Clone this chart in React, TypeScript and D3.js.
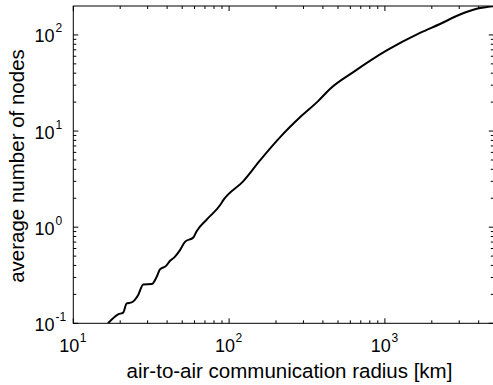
import React from "react";
import * as d3 from "d3";

const radiusKm = [16.7, 19.4, 20.9, 22.0, 23.7, 26.1, 28.1, 31.9, 34.3, 36.0, 39.4, 41.8, 44.5, 48.4, 52.1, 58.9, 61.9, 71.8, 87.4, 91.8, 123, 158, 212, 285, 374, 444, 627, 1027, 1680, 2258, 3034, 3883, 4727, 5000];
const avgNodes = [0.1, 0.124, 0.129, 0.161, 0.165, 0.197, 0.254, 0.256, 0.305, 0.364, 0.396, 0.447, 0.485, 0.577, 0.704, 0.782, 0.909, 1.2, 1.69, 1.91, 3.0, 4.96, 8.6, 13.9, 20.6, 27.4, 41.0, 68.9, 105, 130, 163, 187, 197, 200];

const xMajor = [10, 100, 1000];
const yMajor = [0.1, 1, 10, 100];
const xExp = ["1", "2", "3"];
const yExp = ["-1", "0", "1", "2"];

const W = 493;
const H = 385;
const left = 73.3;
const right = 493.8;
const top = 6;
const bottom = 323.3;

export default function App() {
  const x = d3.scaleLog().domain([10, 5000]).range([left, right]);
  const y = d3.scaleLog().domain([0.1, 200]).range([bottom, top]);

  const xMinor: number[] = [];
  for (const d of [10, 100, 1000]) for (let k = 2; k <= 9; k++) if (d * k < 5000) xMinor.push(d * k);
  const yMinor: number[] = [];
  for (const d of [0.1, 1, 10, 100]) for (let k = 2; k <= 9; k++) if (d * k < 200) yMinor.push(d * k);

  const pts = radiusKm.map((r, i) => [r, avgNodes[i]] as [number, number]);
  const line = d3
    .line<[number, number]>()
    .x((d) => x(d[0]))
    .y((d) => y(d[1]))
    .curve(d3.curveMonotoneX);

  const font = "Arial, 'Liberation Sans', sans-serif";
  const majLen = 5;
  const minLen = 3;

  return (
    <svg
      width={W}
      height={H}
      style={{ position: "absolute", left: 0, top: 0, background: "#fff" }}
    >
      <rect x={0} y={0} width={W} height={H} fill="#fff" />
      <defs>
        <clipPath id="plot">
          <rect x={left} y={top} width={right - left} height={bottom - top} />
        </clipPath>
      </defs>
      <g stroke="#000" strokeWidth={1} fill="none">
        {xMajor.map((v) => (
          <g key={"xm" + v}>
            <line x1={x(v)} x2={x(v)} y1={bottom} y2={bottom - majLen} />
            <line x1={x(v)} x2={x(v)} y1={top} y2={top + majLen} />
          </g>
        ))}
        {xMinor.map((v) => (
          <g key={"xn" + v}>
            <line x1={x(v)} x2={x(v)} y1={bottom} y2={bottom - minLen} />
            <line x1={x(v)} x2={x(v)} y1={top} y2={top + minLen} />
          </g>
        ))}
        {yMajor.map((v) => (
          <g key={"ym" + v}>
            <line x1={left} x2={left + majLen} y1={y(v)} y2={y(v)} />
            <line x1={right} x2={right - majLen} y1={y(v)} y2={y(v)} />
          </g>
        ))}
        {yMinor.map((v) => (
          <g key={"yn" + v}>
            <line x1={left} x2={left + minLen} y1={y(v)} y2={y(v)} />
            <line x1={right} x2={right - minLen} y1={y(v)} y2={y(v)} />
          </g>
        ))}
        <rect x={left} y={top} width={right - left} height={bottom - top} />
      </g>
      <path
        d={line(pts) || ""}
        fill="none"
        stroke="#000"
        strokeWidth={2}
        strokeLinejoin="round"
        clipPath="url(#plot)"
      />
      <g fontFamily={font} fill="#000">
        {xMajor.map((v, i) => (
          <g key={"xl" + v}>
            <text x={x(v) + 6} y={351.7} fontSize={18} textAnchor="end">
              10
            </text>
            <text x={x(v) + 6.5} y={341.7} fontSize={12}>
              {xExp[i]}
            </text>
          </g>
        ))}
        {yMajor.map((v, i) => (
          <g key={"yl" + v}>
            <text x={54.5} y={y(v) + 7.5} fontSize={18} textAnchor="end">
              10
            </text>
            <text x={55.5} y={y(v) - 2.5} fontSize={12}>
              {yExp[i]}
            </text>
          </g>
        ))}
        <text x={289.5} y={378} fontSize={20.5} textAnchor="middle">
          air-to-air communication radius [km]
        </text>
        <text
          transform={`translate(24, ${166}) rotate(-90)`}
          fontSize={20.5}
          textAnchor="middle"
        >
          average number of nodes
        </text>
      </g>
    </svg>
  );
}
